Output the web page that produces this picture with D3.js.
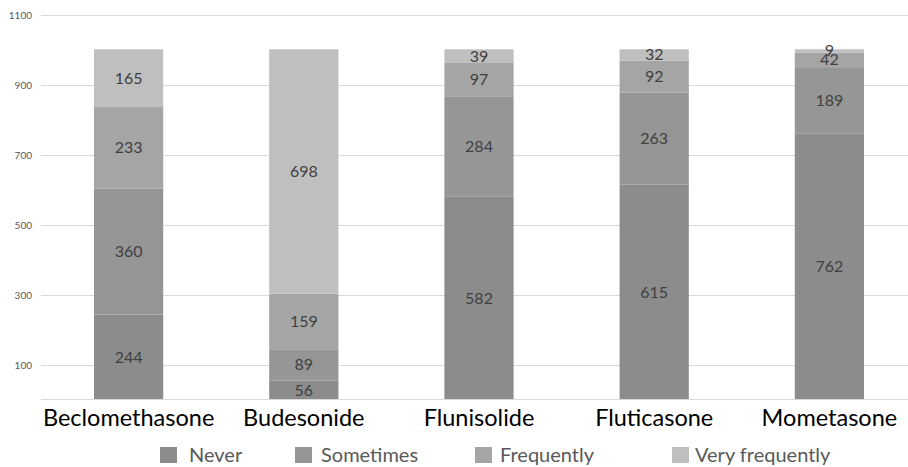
<!DOCTYPE html>
<html><head><meta charset="utf-8">
<script src="https://cdn.jsdelivr.net/npm/d3@7"></script>
<style>body{margin:0;background:#fff;}svg{display:block;font-family:Lato,"Open Sans",sans-serif;}</style>
</head><body><svg id="c" width="908" height="467"></svg>
<script>
const categories = ["Beclomethasone","Budesonide","Flunisolide","Fluticasone","Mometasone"];
const seriesNames = ["Never","Sometimes","Frequently","Very frequently"];
const never = [244,56,582,615,762];
const sometimes = [360,89,284,263,189];
const frequently = [233,159,97,92,42];
const veryFrequently = [165,698,39,32,9];
const tickValues = [100,300,500,700,900,1100];
const colors = ["#8c8c8c","#969696","#a5a5a5","#bfbfbf"];

const svg = d3.select("#c");
const W = 908, H = 467;
const x = d3.scaleBand().domain(categories).range([41,917]).paddingInner(0.605).paddingOuter(0.3025);
const y = d3.scaleLinear().domain([0,1100]).range([400,15]);

const rows = categories.map((c,i)=>({cat:c, Never:never[i], Sometimes:sometimes[i], Frequently:frequently[i], "Very frequently":veryFrequently[i]}));
const stack = d3.stack().keys(seriesNames)(rows);

// gridlines
svg.append("g").selectAll("line").data(tickValues).join("line")
  .attr("x1",41).attr("x2",W).attr("y1",d=>Math.round(y(d))+0.5).attr("y2",d=>Math.round(y(d))+0.5)
  .attr("stroke","#d9d9d9").attr("stroke-width",1);
// tick labels
svg.append("g").selectAll("text").data(tickValues).join("text")
  .attr("x",32).attr("y",d=>y(d)+3.5).attr("text-anchor","end")
  .attr("font-size",10).attr("fill","#595959").text(d=>d);

// bars
const g = svg.append("g");
stack.forEach((s,si)=>{
  g.append("g").selectAll("rect").data(s).join("rect")
    .attr("x",d=>x(d.data.cat)).attr("width",x.bandwidth())
    .attr("y",d=>y(d[1])).attr("height",d=>y(d[0])-y(d[1]))
    .attr("fill",colors[si]);
});
// labels
stack.forEach((s,si)=>{
  g.append("g").selectAll("text").data(s).join("text")
    .attr("x",d=>x(d.data.cat)+x.bandwidth()/2)
    .attr("y",d=>(y(d[0])+y(d[1]))/2+5.5)
    .attr("text-anchor","middle").attr("font-size",16).attr("fill","#404040")
    .text(d=>d[1]-d[0]);
});

// baseline
svg.append("line").attr("x1",41).attr("x2",W).attr("y1",399.5).attr("y2",399.5).attr("stroke","#d9d9d9");

// category axis labels
svg.append("g").selectAll("text").data(categories).join("text")
  .attr("x",d=>x(d)+x.bandwidth()/2).attr("y",426)
  .attr("text-anchor","middle").attr("font-size",23.5).attr("fill","#000")
  .text(d=>d);

// legend
const legSq = [160,295,475,672];
const legTx = [189,321,500,695];
const leg = svg.append("g").selectAll("g").data(seriesNames).join("g");
leg.append("rect").attr("x",(d,i)=>legSq[i]).attr("y",447).attr("width",17).attr("height",16).attr("fill",(d,i)=>colors[i]);
leg.append("text").attr("x",(d,i)=>legTx[i]).attr("y",462).attr("font-size",20).attr("fill","#595959").text(d=>d);
</script></body></html>
